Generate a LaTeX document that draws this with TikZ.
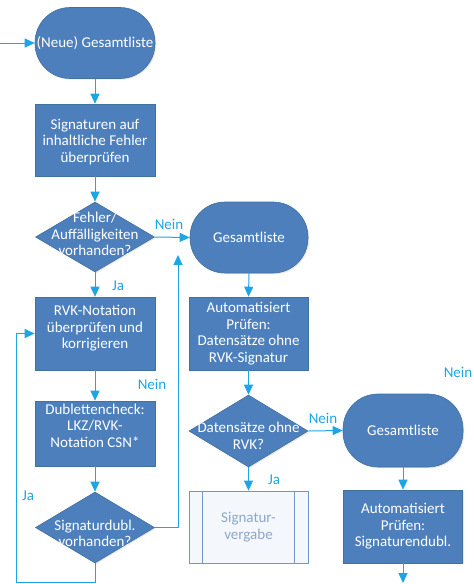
\documentclass[tikz,border=0pt]{standalone}
\usepackage{fontspec}
\setmainfont{Carlito}
\usetikzlibrary{arrows.meta,shapes.geometric,shadows,calc}

\definecolor{boxfill}{HTML}{4C7FBC}
\definecolor{boxline}{HTML}{41719C}
\definecolor{flow}{HTML}{1CA6E6}
\definecolor{subfill}{HTML}{F4F8FC}
\definecolor{subline}{HTML}{6F97C8}
\definecolor{subtext}{HTML}{8EA6C8}

\begin{document}
\begin{tikzpicture}[x=1pt,y=-1pt,
  every node/.style={font=\fontsize{15}{16.5}\selectfont},
  base/.style={draw=boxline, line width=0.6pt, fill=boxfill, inner sep=0pt,
    drop shadow={opacity=0.18, shadow xshift=1.2pt, shadow yshift=-1.2pt}},
  txt/.style={text=white, align=center, inner sep=0pt},
  terminal/.style={base, rectangle, rounded corners=35pt,
    minimum width=120pt, minimum height=71pt},
  process/.style={base, rectangle, minimum width=120pt, minimum height=73pt},
  decision/.style={base, diamond, minimum width=119pt, minimum height=71pt},
  subproc/.style={draw=subline, line width=0.8pt, fill=subfill, rectangle,
    minimum width=119pt, minimum height=72pt, inner sep=0pt,
    text=subtext, align=center},
  flowline/.style={draw=flow, line width=1pt,
    -{Triangle[length=10pt,width=9pt]}},
  lbl/.style={text=flow, inner sep=0pt}]

\useasboundingbox (0,0) rectangle (474,584);
\fill[white] (0,0) rectangle (474,584);

% left column
\node[terminal, label={[txt]center:(Neue) Gesamtliste}] (n1) at (95,43) {};
\node[process, minimum height=72pt,
  label={[txt,yshift=-2pt]center:{Signaturen auf\\inhaltliche Fehler\\überprüfen}}] (n2) at (95,140) {};
\node[decision, minimum height=70pt,
  label={[txt,yshift=3pt]center:{Fehler/\\Auffälligkeiten\\vorhanden?}}] (d1) at (95,237) {};
\node[process,
  label={[txt,yshift=5pt]center:{RVK-Notation\\überprüfen und\\korrigieren}}] (n3) at (95,333.5) {};
\node[process, minimum height=65pt,
  label={[txt,yshift=8pt]center:{Dublettencheck:\\LKZ/RVK-\\Notation CSN*}}] (n4) at (95,433.5) {};
\node[decision,
  label={[txt,yshift=-6pt]center:{Signaturdubl.\\vorhanden?}}] (d2) at (95,527.5) {};

% middle column
\node[terminal, minimum width=118pt, label={[txt]center:Gesamtliste}] (t2) at (249,237.5) {};
\node[process, minimum width=119pt,
  label={[txt]center:{Automatisiert\\Prüfen:\\Datensätze ohne\\RVK-Signatur}}] (n5) at (248.5,333.5) {};
\node[decision, minimum height=72pt,
  label={[txt,yshift=-5pt]center:{Datensätze ohne\\RVK?}}] (d3) at (248.5,431) {};
\node[subproc] (sv) at (248.5,527) {Signatur-\\vergabe};
\draw[subline, line width=0.8pt] ($(sv.north west)+(14,0)$) -- ($(sv.south west)+(14,0)$);
\draw[subline, line width=0.8pt] ($(sv.north east)+(-14,0)$) -- ($(sv.south east)+(-14,0)$);

% right column
\node[terminal, minimum height=73pt, label={[txt]center:Gesamtliste}] (t3) at (403,430.5) {};
\node[process, minimum width=119pt,
  label={[txt]center:{Automatisiert\\Prüfen:\\Signaturendubl.}}] (n6) at (403,526.5) {};

% free ends of connectors
\coordinate (in) at (0,43);
\coordinate (loop) at (16,582);
\coordinate (up) at (178,255);
\coordinate (out) at (403,583);

% connectors
\draw[flowline] (in) -- (n1.west);
\draw[flowline] (n1.south) -- (n2.north);
\draw[flowline] (n2.south) -- (d1.north);
\draw[flowline] (d1.east) -- (t2.west);
\draw[flowline] (d1.south) -- (n3.north);
\draw[flowline] (n3.south) -- (n4.north);
\draw[flowline] (n4.south) -- (d2.north);
\draw[flowline] (d2.south) |- (loop) |- (n3.west);
\draw[flowline] (d2.east) -| (up);
\draw[flowline] (t2.south) -- (n5.north);
\draw[flowline] (n5.south) -- (d3.north);
\draw[flowline] (d3.east) -- (t3.west);
\draw[flowline] (d3.south) -- (sv.north);
\draw[flowline] (t3.south) -- (n6.north);
\draw[flowline] (n6.south) -- (out);

% branch labels
\node[lbl] (l1) at (169,224) {Nein};
\node[lbl] (l2) at (118,286) {Ja};
\node[lbl] (l3) at (152,384) {Nein};
\node[lbl] (l4) at (28,496) {Ja};
\node[lbl] (l5) at (323,418) {Nein};
\node[lbl] (l6) at (274,480) {Ja};
\node[lbl] (l7) at (458,372) {Nein};
\end{tikzpicture}
\end{document}
